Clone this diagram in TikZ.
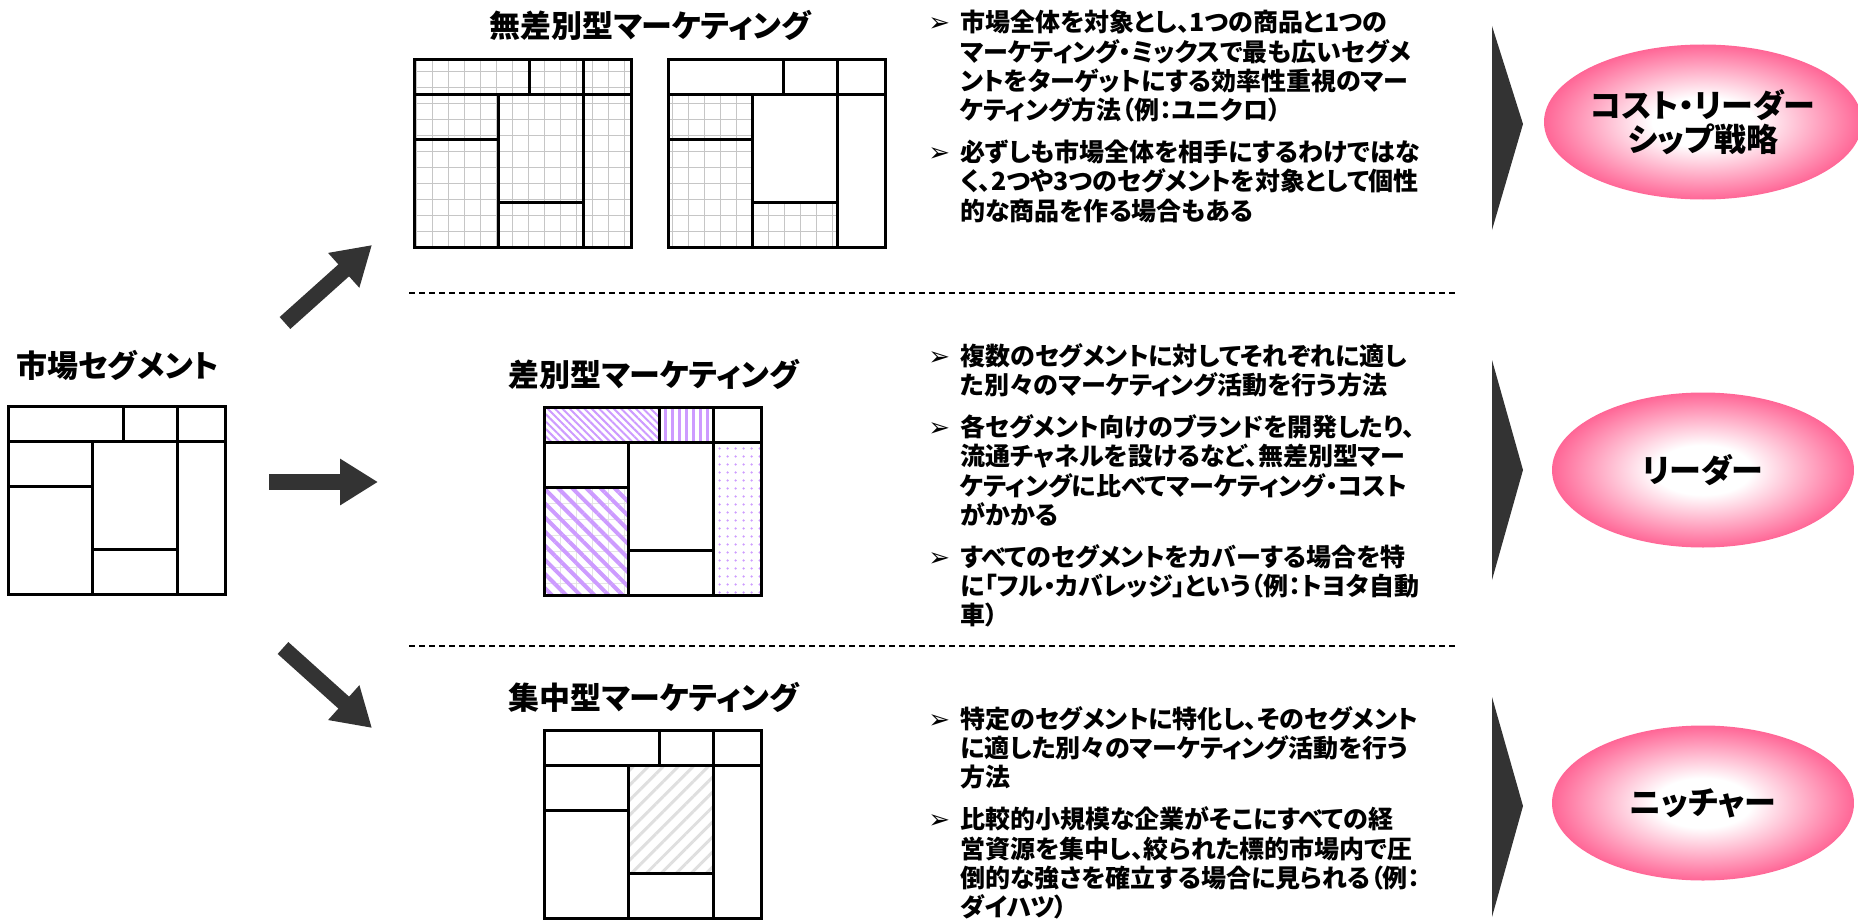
\documentclass[tikz,border=0pt]{standalone}
\usepackage{fontspec}
\setmainfont{Noto Sans CJK JP}[RawFeature=+palt]
\newfontfamily\symfont{DejaVu Sans}
\usetikzlibrary{arrows.meta,positioning,shapes.geometric,patterns.meta}

\definecolor{pinkc}{RGB}{255,102,150}
\definecolor{lav}{RGB}{205,155,255}
\definecolor{darkarr}{RGB}{51,51,51}
\pgfdeclareradialshading{glow}{\pgfpointorigin}{color(0bp)=(white); color(8bp)=(white); color(25bp)=(pinkc); color(50bp)=(pinkc)}

\newcommand{\bl}{\makebox[16pt][l]{\symfont\mdseries\fontsize{13}{13}\selectfont ➢}}
\newcommand{\ind}{\hspace*{16pt}}

\tikzset{
 pics/cells/.style n args={8}{code={
  \path[#1] (0,0) rectangle (115,35);
  \path[#2] (115,0) rectangle (169,35);
  \path[#3] (169,0) rectangle (217,35);
  \path[#4] (0,35) rectangle (84,80);
  \path[#5] (0,80) rectangle (84,188);
  \path[#6] (84,35) rectangle (169,143);
  \path[#7] (84,143) rectangle (169,188);
  \path[#8] (169,35) rectangle (217,188);
  \draw[cellline] (0,0) rectangle (217,188) (0,35) -- (217,35) (115,0) -- (115,35)
   (169,0) -- (169,188) (84,35) -- (84,188) (0,80) -- (84,80) (84,143) -- (169,143);
 }}
}

\begin{document}
\begin{tikzpicture}[x=0.5pt,y=-0.5pt,
 ttl/.style={font=\bfseries\fontsize{15.5}{18}\selectfont,inner sep=0pt},
 txt/.style={font=\bfseries\fontsize{12.5}{14.6}\selectfont,align=left,anchor=north west,inner sep=0pt},
 boxn/.style={minimum width=108.5pt,minimum height=94pt,inner sep=0pt},
 cellline/.style={line width=1.4pt},
 gridfill/.style={pattern={Hatch[distance=8pt,line width=0.5pt]},pattern color=gray!45},
 finediag/.style={pattern={Lines[angle=-45,distance=2.6pt,line width=1pt]},pattern color=lav},
 vstripe/.style={pattern={Lines[angle=90,distance=3.5pt,line width=1.5pt]},pattern color=lav},
 dotfill/.style={pattern={Dots[distance=4pt,radius=0.7pt]},pattern color=lav},
 lavgrid/.style={pattern={Hatch[distance=8pt,line width=0.5pt]},pattern color=gray!20,
  postaction={pattern={Lines[angle=-45,distance=5pt,line width=2pt]},pattern color=lav}},
 graydiag/.style={pattern={Lines[angle=45,distance=5.3pt,line width=1.5pt]},pattern color=gray!25},
 bigarr/.style={line width=8pt,darkarr,-{Triangle[width=22pt,length=19pt]}},
 chev/.style={fill=darkarr},
 goal/.style={ellipse,shading=glow,minimum width=151pt,minimum height=77.5pt,inner sep=0pt,
  align=center,font=\bfseries\fontsize{16}{17}\selectfont},
 divider/.style={dash pattern=on 3pt off 2pt,line width=0.6pt}]
\useasboundingbox (0,0) rectangle (1858,920);

% segment boxes
\node[boxn] (seg) at (117.5,501) {};
\node[boxn] (u1) at (523.5,154) {};
\node[boxn] (u2) at (777.5,154) {};
\node[boxn] (dm) at (653.5,502) {};
\node[boxn] (cm) at (653.5,825) {};
\pic at (seg.north west) {cells={}{}{}{}{}{}{}{}};
\pic at (u1.north west) {cells={gridfill}{gridfill}{gridfill}{gridfill}{gridfill}{gridfill}{gridfill}{gridfill}};
\pic at (u2.north west) {cells={}{}{}{gridfill}{gridfill}{}{gridfill}{}};
\pic at (dm.north west) {cells={finediag}{vstripe}{}{}{lavgrid}{}{}{dotfill}};
\pic at (cm.north west) {cells={}{}{}{}{}{graydiag}{}{}};

% titles
\node[ttl,above=13pt of seg] (segt) {市場セグメント};
\node[ttl] (u1t) at (650,25) {無差別型マーケティング};
\node[ttl,above=9pt of dm] (dmt) {差別型マーケティング};
\node[ttl,above=9pt of cm] (cmt) {集中型マーケティング};

% arrows
\coordinate (a1s) at (285,323); \coordinate (a1e) at (372,245);
\coordinate (a2s) at (269,482); \coordinate (a2e) at (378,482);
\coordinate (a3s) at (283,648); \coordinate (a3e) at (372,728);
\draw[bigarr] (a1s) -- (a1e);
\draw[bigarr] (a2s) -- (a2e);
\draw[bigarr] (a3s) -- (a3e);

\draw[divider] (409,293) -- (1455,293);
\draw[divider] (409,646) -- (1455,646);

% descriptions
\node[txt] (tu) at (928,10) {\bl 市場全体を対象とし、1つの商品と1つの\\
 \ind マーケティング・ミックスで最も広いセグメ\\
 \ind ントをターゲットにする効率性重視のマー\\
 \ind ケティング方法（例：ユニクロ）\\[6.5pt]
 \bl 必ずしも市場全体を相手にするわけではな\\
 \ind く、2つや3つのセグメントを対象として個性\\
 \ind 的な商品を作る場合もある};
\node[txt] (td) at (928,343) {\bl 複数のセグメントに対してそれぞれに適し\\
 \ind た別々のマーケティング活動を行う方法\\[6.5pt]
 \bl 各セグメント向けのブランドを開発したり、\\
 \ind 流通チャネルを設けるなど、無差別型マー\\
 \ind ケティングに比べてマーケティング・コスト\\
 \ind がかかる\\[6.5pt]
 \bl すべてのセグメントをカバーする場合を特\\
 \ind に「フル・カバレッジ」という（例：トヨタ自動\\
 \ind 車）};
\node[txt] (tc) at (928,706) {\bl 特定のセグメントに特化し、そのセグメント\\
 \ind に適した別々のマーケティング活動を行う\\
 \ind 方法\\[6.5pt]
 \bl 比較的小規模な企業がそこにすべての経\\
 \ind 営資源を集中し、絞られた標的市場内で圧\\
 \ind 倒的な強さを確立する場合に見られる（例：\\
 \ind ダイハツ）};

% strategies
\fill[chev] (1492,26) -- (1523,124) -- (1492,230) -- cycle;
\fill[chev] (1492,360) -- (1523,470) -- (1492,580) -- cycle;
\fill[chev] (1492,697) -- (1523,806) -- (1492,917) -- cycle;
\node[goal] (cl) at (1703,122) {コスト・リーダー\\シップ戦略};
\node[goal] (ld) at (1703,470) {リーダー};
\node[goal] (ni) at (1703,803) {ニッチャー};
\end{tikzpicture}
\end{document}
